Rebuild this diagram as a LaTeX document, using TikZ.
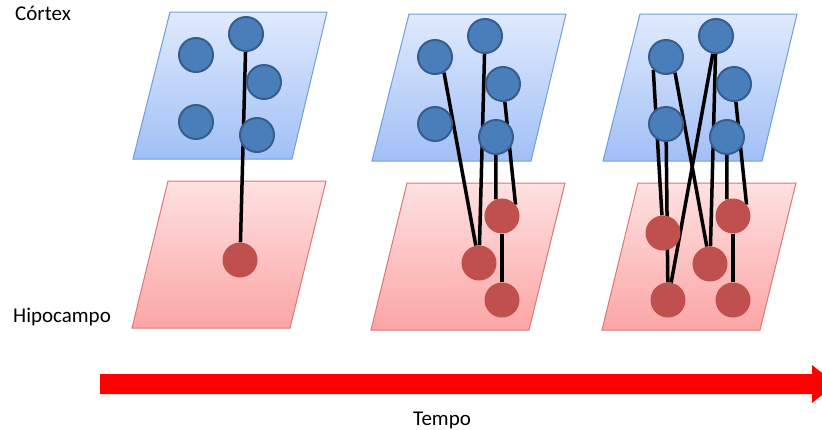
\documentclass[tikz,border=0pt]{standalone}
\usepackage{fontspec}
\setmainfont{Carlito}
\definecolor{ctxtop}{HTML}{E0EAFD}
\definecolor{ctxbot}{HTML}{A1BFF6}
\definecolor{ctxline}{HTML}{709DDD}
\definecolor{hiptop}{HTML}{FEE1E1}
\definecolor{hipbot}{HTML}{FCA5A5}
\definecolor{hipline}{HTML}{DE7676}
\definecolor{nblue}{HTML}{4A7EBB}
\definecolor{nblueline}{HTML}{355E8D}
\definecolor{nred}{HTML}{C0504D}
\pgfdeclarelayer{bg}
\pgfdeclarelayer{links}
\pgfsetlayers{bg,links,main}
\begin{document}
\begin{tikzpicture}[x=1pt,y=-1pt,
    ctx/.style={top color=ctxtop,bottom color=ctxbot,draw=ctxline,line width=1pt},
    hip/.style={top color=hiptop,bottom color=hipbot,draw=hipline,line width=1pt},
    neuron/.style={circle,minimum size=34pt,inner sep=0,fill=nblue,draw=nblueline,line width=2pt},
    hneuron/.style={circle,minimum size=35pt,inner sep=0,fill=nred},
    link/.style={line width=3.5pt},
    lbl/.style={inner sep=0,font=\fontsize{21}{25}\selectfont},
  ]
  \useasboundingbox (0,0) rectangle (822,429);
  \clip (0,0) rectangle (822,429);
  % three stages: cortex over hippocampus
  \foreach \p/\dx/\dy in {1/0/0,2/239/2,3/470/2}{
    \begin{scope}[shift={(\dx,\dy)}]
      \begin{pgfonlayer}{bg}
        \shadedraw[ctx] (170,12) -- (327,12) -- (292,159) -- (133,159) -- cycle;
        \shadedraw[hip] (168,181) -- (326,181) -- (290,328) -- (132,328) -- cycle;
      \end{pgfonlayer}
      \foreach \n/\x/\y in {1/196/55,2/246/34,3/264/82,4/196/122,5/257/135}
        \node[neuron] (b\p\n) at (\x,\y) {};
    \end{scope}
  }
  \node[hneuron] (r1b) at (240,260) {};
  \node[hneuron] (r2a) at (502,216) {};
  \node[hneuron] (r2b) at (479,263) {};
  \node[hneuron] (r2c) at (502,300) {};
  \node[hneuron] (r3a) at (733,216) {};
  \node[hneuron] (r3d) at (663,233) {};
  \node[hneuron] (r3b) at (710,264) {};
  \node[hneuron] (r3e) at (668,300) {};
  \node[hneuron] (r3c) at (733,300) {};
  \begin{pgfonlayer}{links}
    \draw[link] (b12) -- (r1b);
    \draw[link] (b21.-60) -- (r2b);
    \draw[link] (b22) -- (r2b);
    \draw[link] (b23) -- (r2a.40);
    \draw[link] (b25) -- (r2a.110);
    \draw[link] (r2a) -- (r2c);
    \draw[link] (b31.-135) -- (r3d);
    \draw[link] (b31.-60) -- (r3b);
    \draw[link] (b34) -- (r3e);
    \draw[link] (b32) -- (r3e);
    \draw[link] (b32) -- (r3b);
    \draw[link] (b33) -- (r3a.40);
    \draw[link] (b35) -- (r3a.110);
    \draw[link] (r3a) -- (r3c);
  \end{pgfonlayer}
  \node[lbl,anchor=base west] (cortex) at (15,20) {Córtex};
  \node[lbl,anchor=base west] (hipo) at (13,322) {Hipocampo};
  % time arrow
  \fill[red] (100,374) -- (812,374) -- (812,365) -- (836,384) -- (812,403)
    -- (812,394) -- (100,394) -- cycle;
  \node[lbl,anchor=base] (tempo) at (442,425) {Tempo};
\end{tikzpicture}
\end{document}
